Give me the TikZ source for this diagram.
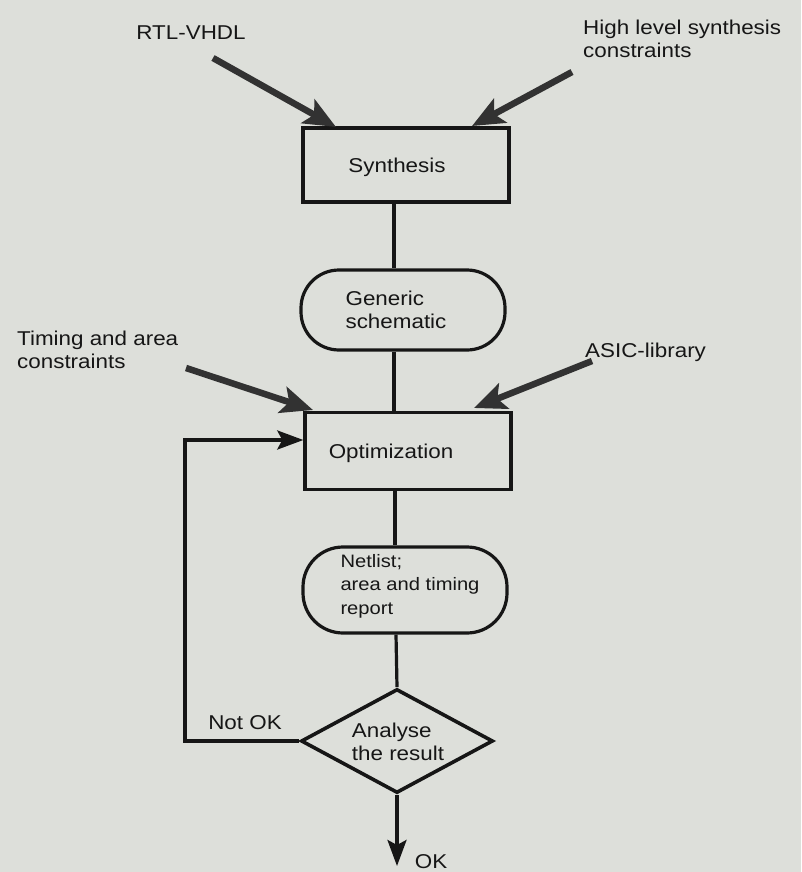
\documentclass[tikz,border=0pt]{standalone}
\usepackage{fontspec}
\setmainfont[FakeStretch=1.12]{Liberation Sans}
\usetikzlibrary{arrows.meta,shapes.geometric}
\definecolor{paper}{RGB}{221,223,218}
\definecolor{ink}{RGB}{22,22,22}
\definecolor{arrowink}{RGB}{50,50,50}
\begin{document}
\begin{tikzpicture}[x=1pt,y=-1pt,
  lbl/.style={inner sep=0pt,text=ink,font=\fontsize{20}{23}\selectfont},
  procbox/.style={draw=ink,line width=3.4pt,minimum width=206pt,minimum height=74pt,inner sep=0pt},
  stadium/.style={draw=ink,line width=3.2pt,rounded corners=38pt,minimum width=204pt,inner sep=0pt},
  decision/.style={draw=ink,line width=3.6pt,diamond,minimum width=192pt,minimum height=104pt,inner sep=0pt},
  flow/.style={draw=ink,line width=3.2pt},
  feed/.style={draw=arrowink,line width=6.5pt,-{Stealth[length=32pt,width=27pt,inset=7pt]}},
  back/.style={draw=ink,line width=3.4pt,-{Stealth[length=26pt,width=19pt,inset=5pt]}}
]
% paper
\fill[paper] (0,0) rectangle (801,872);
\useasboundingbox (0,0) rectangle (801,872);

% main column
\node[procbox] (syn) at (406,165) {};
\node[lbl] (syntxt) at (397,167) {Synthesis};
\node[stadium,minimum height=80pt] (gen) at (403,310) {};
\node[lbl,align=left] (gentxt) at (396,310) {Generic\\schematic};
\node[procbox,minimum height=77pt] (opt) at (408,451) {};
\node[lbl] (opttxt) at (391,453) {Optimization};
\node[stadium,minimum height=86pt,rounded corners=40pt] (net) at (405,590) {};
\node[lbl,align=left,font=\fontsize{18}{23.5}\selectfont] (nettxt) at (410,586) {Netlist;\\area and timing\\report};
\node[decision] (ana) at (397,741) {};
\node[lbl,align=left] (anatxt) at (398,742) {Analyse\\the result};

\draw[flow] (syn.south -| 394,0) -- (gen.north -| 394,0);
\draw[flow] (gen.south -| 394,0) -- (opt.north -| 394,0);
\draw[flow] (opt.south -| 395,0) -- (net.north -| 395,0);
\draw[flow] (net.south -| 396,0) -- (ana.north);

% outputs of the decision
\coordinate (okend) at (397,866);
\draw[back] (ana.south) -- (okend);
\node[lbl] (ok) at (431,862) {OK};
\coordinate (loopcorner) at (185,741);
\draw[back] (ana.west) -- (loopcorner) -- (185,440) -- (opt.west |- 0,440);
\node[lbl] (notok) at (245,723) {Not OK};

% external inputs
\node[lbl] (rtl) at (191,33) {RTL-VHDL};
\node[lbl,anchor=north west,align=left] (hls) at (583,20) {High level synthesis\\constraints};
\node[lbl,anchor=north west,align=left] (tac) at (17,331) {Timing and area\\constraints};
\node[lbl,anchor=west] (asic) at (585,352) {ASIC-library};

\coordinate (rtlfrom) at (213,58);
\coordinate (hlsfrom) at (572,72);
\coordinate (tacfrom) at (186,368);
\coordinate (asicfrom) at (592,361);
\draw[feed] (rtlfrom) -- (336,127);
\draw[feed] (hlsfrom) -- (472,126);
\draw[feed] (tacfrom) -- (313,410);
\draw[feed] (asicfrom) -- (474,408);
\end{tikzpicture}
\end{document}
